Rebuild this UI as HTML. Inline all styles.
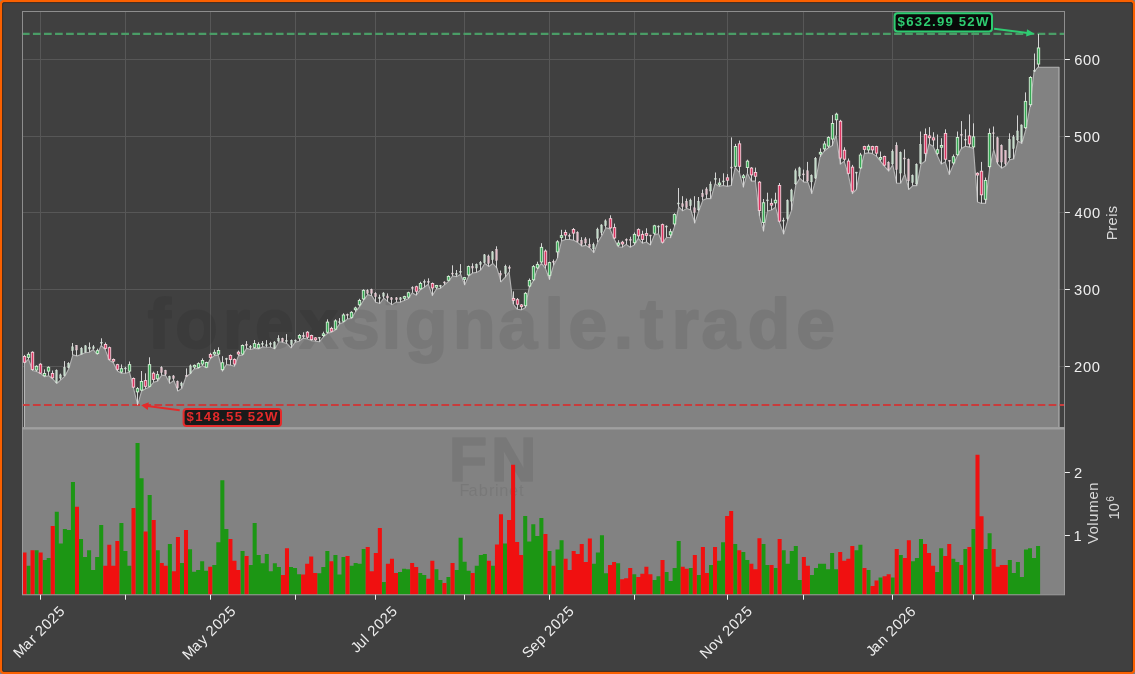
<!DOCTYPE html><html><head><meta charset="utf-8"><style>html,body{margin:0;padding:0;background:#808080;overflow:hidden}svg{display:block;will-change:transform}text{font-family:"Liberation Sans",sans-serif}</style></head><body>
<svg width="1135" height="674" viewBox="0 0 1135 674">
<rect x="1.1" y="1.1" width="1132.8" height="671.8" rx="2.6" fill="#404040" stroke="#fa6000" stroke-width="2.2"/>
<rect x="2.6" y="2.6" width="1129.8" height="668.8" rx="1.4" fill="none" stroke="#000" stroke-opacity="0.45" stroke-width="0.8"/>
<path d="M40.5 11.5V427.5M125.5 11.5V427.5M210.5 11.5V427.5M295.5 11.5V427.5M375.5 11.5V427.5M464.5 11.5V427.5M549.5 11.5V427.5M634.5 11.5V427.5M727.5 11.5V427.5M803.5 11.5V427.5M892.5 11.5V427.5M973.5 11.5V427.5M22.5 59.5H1064.5M22.5 136.5H1064.5M22.5 212.5H1064.5M22.5 289.5H1064.5M22.5 366.5H1064.5" stroke="#575757" stroke-width="1" fill="none"/>
<polygon points="24.5,427.5 24.5,363.2 28.5,359.1 32.6,370.5 36.6,371.5 40.6,373.6 44.7,376.7 48.7,375.7 52.7,378.8 56.8,383.5 60.8,379.8 64.9,376.2 68.9,368.4 72.9,354.9 77.0,356.0 81.0,354.4 85.1,352.8 89.1,352.3 93.1,349.7 97.2,354.4 101.2,345.4 105.2,349.6 109.3,360.3 113.3,362.7 117.4,371.0 121.4,373.3 125.4,373.3 129.5,372.2 133.5,388.2 137.6,405.2 141.6,391.1 145.6,388.8 149.7,387.0 153.7,382.2 157.7,381.1 161.8,375.1 165.8,375.7 169.9,383.4 173.9,380.5 177.9,391.1 182.0,388.2 186.0,376.7 190.0,374.0 194.1,369.0 198.1,368.4 202.2,365.6 206.2,367.8 210.2,358.9 214.3,355.6 218.3,355.1 222.4,371.2 226.4,364.5 230.4,365.1 234.5,366.2 238.5,355.6 242.5,355.1 246.6,348.4 250.6,349.5 254.7,348.4 258.7,348.9 262.7,346.7 266.8,347.2 270.8,347.2 274.9,349.0 278.9,341.8 282.9,342.4 287.0,343.6 291.0,347.8 295.0,342.4 299.1,341.2 303.1,338.3 307.2,338.9 311.2,340.6 315.2,341.2 319.3,341.8 323.3,337.1 327.3,333.5 331.4,332.3 335.4,330.0 339.5,324.0 343.5,322.2 347.5,319.0 351.6,318.4 355.6,311.8 359.7,306.5 363.7,300.0 367.7,294.6 371.8,295.8 375.8,302.3 379.8,303.5 383.9,298.2 387.9,301.7 392.0,304.7 396.0,302.3 400.0,302.3 404.1,300.6 408.1,298.8 412.2,292.8 416.2,295.2 420.2,289.9 424.3,287.2 428.3,284.3 432.3,295.6 436.4,289.0 440.4,288.4 444.5,284.9 448.5,281.3 452.5,276.0 456.6,276.6 460.6,274.2 464.7,284.9 468.7,276.0 472.7,273.0 476.8,272.4 480.8,270.0 484.8,263.5 488.9,266.5 492.9,263.5 497.0,268.2 501.0,281.9 505.0,277.3 509.1,272.1 513.1,304.0 517.1,309.2 521.2,309.9 525.2,307.7 529.3,287.4 533.3,281.0 537.3,269.1 541.4,263.2 545.4,268.4 549.5,279.5 553.5,265.4 557.5,258.0 561.6,240.9 565.6,239.5 569.6,239.5 573.7,240.2 577.7,242.4 581.8,246.1 585.8,245.4 589.8,247.9 593.9,252.7 597.9,242.0 602.0,235.5 606.0,227.7 610.0,228.9 614.1,239.0 618.1,246.7 622.1,247.3 626.2,244.4 630.2,247.3 634.3,245.0 638.3,238.4 642.3,243.2 646.4,242.0 650.4,245.0 654.4,234.9 658.5,233.7 662.5,243.2 666.6,237.2 670.6,237.8 674.6,226.4 678.7,206.8 682.7,210.9 686.8,208.4 690.8,210.0 694.8,223.1 698.9,210.9 702.9,200.2 706.9,198.6 711.0,198.6 715.0,183.9 719.1,186.4 723.1,185.5 727.1,186.4 731.2,185.5 735.2,167.6 739.3,172.5 743.3,187.2 747.3,173.3 751.4,181.1 755.4,181.1 759.4,215.8 763.5,231.2 767.5,211.0 771.6,210.0 775.6,207.1 779.6,222.6 783.7,234.1 787.7,220.6 791.7,210.0 795.8,185.0 799.8,178.2 803.9,182.1 807.9,182.1 811.9,193.6 816.0,179.2 820.0,157.0 824.1,151.3 828.1,148.0 832.1,145.8 836.2,135.3 840.2,164.2 844.2,161.3 848.3,174.7 852.3,193.7 856.4,189.5 860.4,169.1 864.4,153.6 868.5,152.9 872.5,153.6 876.6,156.4 880.6,161.3 884.6,166.3 888.7,171.2 892.7,164.9 896.7,183.2 900.8,183.2 904.8,174.0 908.9,189.5 912.9,185.6 916.9,185.6 921.0,164.1 925.0,161.2 929.0,144.1 933.1,146.3 937.1,155.2 941.2,164.1 945.2,161.9 949.2,174.5 953.3,164.9 957.3,156.0 961.4,148.6 965.4,146.3 969.4,147.1 973.5,148.6 977.5,201.9 981.5,203.4 985.6,203.4 989.6,168.6 993.7,149.5 997.7,164.0 1001.7,168.2 1005.8,165.7 1009.8,159.7 1013.9,158.9 1017.9,141.0 1021.9,143.5 1026.0,129.0 1030.0,106.9 1034.0,72.0 1038.1,67.2 1059.0,67.2 1059.0,427.5" fill="#828282"/>
<polyline points="24.5,427.5 24.5,363.2 28.5,359.1 32.6,370.5 36.6,371.5 40.6,373.6 44.7,376.7 48.7,375.7 52.7,378.8 56.8,383.5 60.8,379.8 64.9,376.2 68.9,368.4 72.9,354.9 77.0,356.0 81.0,354.4 85.1,352.8 89.1,352.3 93.1,349.7 97.2,354.4 101.2,345.4 105.2,349.6 109.3,360.3 113.3,362.7 117.4,371.0 121.4,373.3 125.4,373.3 129.5,372.2 133.5,388.2 137.6,405.2 141.6,391.1 145.6,388.8 149.7,387.0 153.7,382.2 157.7,381.1 161.8,375.1 165.8,375.7 169.9,383.4 173.9,380.5 177.9,391.1 182.0,388.2 186.0,376.7 190.0,374.0 194.1,369.0 198.1,368.4 202.2,365.6 206.2,367.8 210.2,358.9 214.3,355.6 218.3,355.1 222.4,371.2 226.4,364.5 230.4,365.1 234.5,366.2 238.5,355.6 242.5,355.1 246.6,348.4 250.6,349.5 254.7,348.4 258.7,348.9 262.7,346.7 266.8,347.2 270.8,347.2 274.9,349.0 278.9,341.8 282.9,342.4 287.0,343.6 291.0,347.8 295.0,342.4 299.1,341.2 303.1,338.3 307.2,338.9 311.2,340.6 315.2,341.2 319.3,341.8 323.3,337.1 327.3,333.5 331.4,332.3 335.4,330.0 339.5,324.0 343.5,322.2 347.5,319.0 351.6,318.4 355.6,311.8 359.7,306.5 363.7,300.0 367.7,294.6 371.8,295.8 375.8,302.3 379.8,303.5 383.9,298.2 387.9,301.7 392.0,304.7 396.0,302.3 400.0,302.3 404.1,300.6 408.1,298.8 412.2,292.8 416.2,295.2 420.2,289.9 424.3,287.2 428.3,284.3 432.3,295.6 436.4,289.0 440.4,288.4 444.5,284.9 448.5,281.3 452.5,276.0 456.6,276.6 460.6,274.2 464.7,284.9 468.7,276.0 472.7,273.0 476.8,272.4 480.8,270.0 484.8,263.5 488.9,266.5 492.9,263.5 497.0,268.2 501.0,281.9 505.0,277.3 509.1,272.1 513.1,304.0 517.1,309.2 521.2,309.9 525.2,307.7 529.3,287.4 533.3,281.0 537.3,269.1 541.4,263.2 545.4,268.4 549.5,279.5 553.5,265.4 557.5,258.0 561.6,240.9 565.6,239.5 569.6,239.5 573.7,240.2 577.7,242.4 581.8,246.1 585.8,245.4 589.8,247.9 593.9,252.7 597.9,242.0 602.0,235.5 606.0,227.7 610.0,228.9 614.1,239.0 618.1,246.7 622.1,247.3 626.2,244.4 630.2,247.3 634.3,245.0 638.3,238.4 642.3,243.2 646.4,242.0 650.4,245.0 654.4,234.9 658.5,233.7 662.5,243.2 666.6,237.2 670.6,237.8 674.6,226.4 678.7,206.8 682.7,210.9 686.8,208.4 690.8,210.0 694.8,223.1 698.9,210.9 702.9,200.2 706.9,198.6 711.0,198.6 715.0,183.9 719.1,186.4 723.1,185.5 727.1,186.4 731.2,185.5 735.2,167.6 739.3,172.5 743.3,187.2 747.3,173.3 751.4,181.1 755.4,181.1 759.4,215.8 763.5,231.2 767.5,211.0 771.6,210.0 775.6,207.1 779.6,222.6 783.7,234.1 787.7,220.6 791.7,210.0 795.8,185.0 799.8,178.2 803.9,182.1 807.9,182.1 811.9,193.6 816.0,179.2 820.0,157.0 824.1,151.3 828.1,148.0 832.1,145.8 836.2,135.3 840.2,164.2 844.2,161.3 848.3,174.7 852.3,193.7 856.4,189.5 860.4,169.1 864.4,153.6 868.5,152.9 872.5,153.6 876.6,156.4 880.6,161.3 884.6,166.3 888.7,171.2 892.7,164.9 896.7,183.2 900.8,183.2 904.8,174.0 908.9,189.5 912.9,185.6 916.9,185.6 921.0,164.1 925.0,161.2 929.0,144.1 933.1,146.3 937.1,155.2 941.2,164.1 945.2,161.9 949.2,174.5 953.3,164.9 957.3,156.0 961.4,148.6 965.4,146.3 969.4,147.1 973.5,148.6 977.5,201.9 981.5,203.4 985.6,203.4 989.6,168.6 993.7,149.5 997.7,164.0 1001.7,168.2 1005.8,165.7 1009.8,159.7 1013.9,158.9 1017.9,141.0 1021.9,143.5 1026.0,129.0 1030.0,106.9 1034.0,72.0 1038.1,67.2 1059.0,67.2 1059.0,427.5" fill="none" stroke="#b4b4b4" stroke-width="1.1" stroke-linejoin="round"/>
<g opacity="0.07"><text transform="translate(144.53 347.80)" x="3.18 30.63 78.56 110.48 154.91 196.55 237.14 260.38 308.39 353.98 400.00 423.94 469.23 495.52 527.17 556.90 603.30 651.71" y="0" font-size="69.50" font-weight="bold" fill="#000" stroke="#000" stroke-width="2" stroke-linejoin="round">forexsignale.trade</text></g>
<line x1="21.9" y1="33.9" x2="1064.5" y2="33.9" stroke="#4a9c66" stroke-width="2.2" stroke-dasharray="7.71 3.33"/>
<line x1="21.9" y1="405.0" x2="1064.5" y2="405.0" stroke="#c83c3c" stroke-width="2.2" stroke-dasharray="7.71 3.33"/>
<path d="M24.5 354.9V363.2M28.5 352.3V359.1M32.5 351.3V370.5M36.5 365.3V371.5M40.5 363.2V373.6M44.5 369.4V376.7M48.5 366.3V375.7M52.5 370.5V378.8M56.5 369.4V383.5M60.5 373.6V379.8M64.5 361.1V376.2M68.5 362.2V368.4M72.5 343.0V354.9M76.5 345.1V356.0M81.5 347.1V354.4M85.5 345.1V352.8M89.5 342.5V352.3M93.5 345.1V349.7M97.5 348.7V354.4M101.5 338.3V345.4M105.5 342.5V349.6M109.5 346.6V360.3M113.5 358.5V362.7M117.5 363.8V371.0M121.5 364.4V373.3M125.5 366.8V373.3M129.5 361.5V372.2M133.5 377.5V388.2M137.5 387.0V405.2M141.5 371.0V391.1M145.5 373.3V388.8M149.5 357.3V387.0M153.5 371.6V382.2M157.5 371.0V381.1M161.5 366.2V375.1M165.5 369.8V375.7M169.5 375.7V383.4M173.5 375.1V380.5M177.5 380.5V391.1M181.5 381.7V388.2M186.5 368.4V376.7M190.5 364.5V374.0M194.5 364.5V369.0M198.5 362.3V368.4M202.5 358.4V365.6M206.5 361.7V367.8M210.5 352.8V358.9M214.5 349.5V355.6M218.5 347.3V355.1M222.5 356.2V371.2M226.5 357.8V364.5M230.5 354.5V365.1M234.5 358.4V366.2M238.5 350.6V355.6M242.5 344.5V355.1M246.5 341.1V348.4M250.5 345.0V349.5M254.5 340.0V348.4M258.5 342.3V348.9M262.5 341.1V346.7M266.5 340.1V347.2M270.5 341.8V347.2M274.5 341.2V349.0M278.5 335.3V341.8M282.5 337.7V342.4M286.5 334.1V343.6M291.5 339.5V347.8M295.5 339.5V342.4M299.5 334.1V341.2M303.5 332.3V338.3M307.5 331.1V338.9M311.5 334.7V340.6M315.5 337.1V341.2M319.5 337.1V341.8M323.5 331.7V337.1M327.5 319.3V333.5M331.5 326.8V332.3M335.5 319.3V330.0M339.5 318.1V324.0M343.5 313.3V322.2M347.5 313.6V319.0M351.5 311.2V318.4M355.5 306.7V311.8M359.5 298.8V306.5M363.5 289.3V300.0M367.5 289.3V294.6M371.5 288.7V295.8M375.5 292.2V302.3M379.5 294.6V303.5M383.5 292.2V298.2M387.5 293.4V301.7M391.5 297.0V304.7M396.5 297.0V302.3M400.5 297.0V302.3M404.5 295.8V300.6M408.5 291.7V298.8M412.5 286.3V292.8M416.5 285.7V295.2M420.5 281.8V289.9M424.5 279.5V287.2M428.5 278.3V284.3M432.5 282.5V295.6M436.5 284.9V289.0M440.5 284.9V288.4M444.5 281.3V284.9M448.5 275.4V281.3M452.5 265.3V276.0M456.5 270.0V276.6M460.5 264.1V274.2M464.5 277.2V284.9M468.5 265.6V276.0M472.5 263.3V273.0M476.5 263.5V272.4M480.5 261.1V270.0M484.5 254.0V263.5M488.5 254.6V266.5M492.5 251.0V263.5M496.5 246.3V268.2M500.5 270.6V281.9M505.5 264.7V277.3M509.5 265.4V272.1M513.5 291.4V304.0M517.5 298.0V309.2M521.5 304.0V309.9M525.5 292.1V307.7M529.5 278.5V287.4M533.5 265.1V281.0M537.5 261.7V269.1M541.5 243.2V263.2M545.5 249.4V268.4M549.5 261.7V279.5M553.5 259.5V265.4M557.5 240.2V258.0M561.5 229.8V240.9M565.5 229.8V239.5M569.5 233.5V239.5M573.5 228.0V240.2M577.5 231.3V242.4M581.5 237.2V246.1M585.5 237.2V245.4M589.5 238.4V247.9M593.5 242.6V252.7M597.5 227.7V242.0M601.5 224.2V235.5M605.5 219.4V227.7M610.5 215.3V228.9M614.5 223.6V239.0M618.5 240.2V246.7M622.5 240.8V247.3M626.5 238.4V244.4M630.5 236.7V247.3M634.5 232.5V245.0M638.5 228.3V238.4M642.5 230.7V243.2M646.5 228.3V242.0M650.5 234.9V245.0M654.5 224.8V234.9M658.5 225.4V233.7M662.5 223.6V243.2M666.5 225.4V237.2M670.5 228.8V237.8M674.5 213.3V226.4M678.5 188.0V206.8M682.5 196.2V210.9M686.5 198.6V208.4M690.5 198.6V210.0M694.5 196.2V223.1M698.5 197.0V210.9M702.5 189.6V200.2M706.5 187.2V198.6M710.5 181.5V198.6M715.5 172.5V183.9M719.5 178.2V186.4M723.5 173.3V185.5M727.5 174.1V186.4M731.5 137.4V185.5M735.5 143.9V167.6M739.5 140.6V172.5M743.5 174.1V187.2M747.5 159.7V173.3M751.5 167.1V181.1M755.5 167.6V181.1M759.5 181.1V215.8M763.5 199.0V231.2M767.5 192.7V211.0M771.5 198.5V210.0M775.5 192.7V207.1M779.5 183.0V222.6M783.5 217.7V234.1M787.5 199.4V220.6M791.5 188.8V210.0M795.5 168.6V185.0M799.5 166.7V178.2M803.5 169.6V182.1M807.5 161.9V182.1M811.5 174.4V193.6M815.5 157.0V179.2M820.5 148.4V157.0M824.5 141.2V151.3M828.5 136.3V148.0M832.5 115.1V145.8M836.5 112.7V135.3M840.5 119.8V164.2M844.5 147.3V161.3M848.5 158.5V174.7M852.5 164.9V193.7M856.5 171.9V189.5M860.5 152.9V169.1M864.5 145.8V153.6M868.5 144.4V152.9M872.5 145.8V153.6M876.5 145.8V156.4M880.5 151.5V161.3M884.5 155.7V166.3M888.5 161.3V171.2M892.5 149.4V164.9M896.5 142.3V183.2M900.5 151.5V183.2M904.5 149.4V174.0M908.5 158.5V189.5M912.5 174.5V185.6M916.5 163.4V185.6M920.5 131.5V164.1M925.5 128.5V161.2M929.5 127.1V144.1M933.5 132.2V146.3M937.5 134.5V155.2M941.5 138.2V164.1M945.5 129.3V161.9M949.5 160.1V174.5M953.5 154.5V164.9M957.5 131.5V156.0M961.5 121.1V148.6M965.5 129.3V146.3M969.5 114.4V147.1M973.5 123.3V148.6M977.5 172.3V201.9M981.5 161.9V203.4M985.5 177.5V203.4M989.5 128.5V168.6M993.5 126.5V149.5M997.5 136.7V164.0M1001.5 144.4V168.2M1005.5 150.3V165.7M1009.5 133.3V159.7M1013.5 135.0V158.9M1017.5 115.4V141.0M1021.5 124.4V143.5M1025.5 92.4V129.0M1030.5 76.2V106.9M1034.5 53.5V72.0M1038.5 34.0V67.2" stroke="#d4d4d4" stroke-width="1" fill="none"/>
<rect x="23.30" y="356.40" width="2.40" height="5.85" fill="#dc3461" stroke="#f7d0da" stroke-width="0.9"/><rect x="27.30" y="354.33" width="2.40" height="3.04" fill="#34a853" stroke="#d4f0d6" stroke-width="0.9"/><rect x="31.30" y="352.25" width="2.40" height="17.27" fill="#dc3461" stroke="#f7d0da" stroke-width="0.9"/><rect x="35.30" y="366.26" width="2.40" height="3.77" fill="#34a853" stroke="#d4f0d6" stroke-width="0.9"/><rect x="39.30" y="364.19" width="2.40" height="8.96" fill="#dc3461" stroke="#f7d0da" stroke-width="0.9"/><rect x="43.30" y="373.53" width="2.40" height="2.21" fill="#34a853" stroke="#d4f0d6" stroke-width="0.9"/><rect x="47.30" y="367.30" width="2.40" height="3.77" fill="#34a853" stroke="#d4f0d6" stroke-width="0.9"/><rect x="51.30" y="373.53" width="2.40" height="4.29" fill="#dc3461" stroke="#f7d0da" stroke-width="0.9"/><rect x="55.55" y="370.22" width="1.90" height="12.48" fill="#c2e0c8" stroke="#e2ece4" stroke-width="0.5" opacity="0.8"/><rect x="59.55" y="374.89" width="1.90" height="3.13" fill="#c2e0c8" stroke="#e2ece4" stroke-width="0.5" opacity="0.8"/><rect x="63.55" y="367.62" width="1.90" height="7.80" fill="#c2e0c8" stroke="#e2ece4" stroke-width="0.5" opacity="0.8"/><rect x="67.55" y="363.47" width="1.90" height="4.17" fill="#c2e0c8" stroke="#e2ece4" stroke-width="0.5" opacity="0.8"/><rect x="71.55" y="346.86" width="1.90" height="3.65" fill="#c2e0c8" stroke="#e2ece4" stroke-width="0.5" opacity="0.8"/><rect x="75.55" y="345.30" width="1.90" height="4.69" fill="#eab9c7" stroke="#eee0e4" stroke-width="0.5" opacity="0.8"/><rect x="80.55" y="348.42" width="1.90" height="5.73" fill="#c2e0c8" stroke="#e2ece4" stroke-width="0.5" opacity="0.8"/><rect x="84.55" y="345.82" width="1.90" height="6.25" fill="#c2e0c8" stroke="#e2ece4" stroke-width="0.5" opacity="0.8"/><rect x="88.55" y="347.38" width="1.90" height="1.58" fill="#c2e0c8" stroke="#e2ece4" stroke-width="0.5" opacity="0.8"/><rect x="92.55" y="346.86" width="1.90" height="1.58" fill="#c2e0c8" stroke="#e2ece4" stroke-width="0.5" opacity="0.8"/><rect x="96.30" y="350.69" width="2.40" height="2.73" fill="#34a853" stroke="#d4f0d6" stroke-width="0.9"/><rect x="100.55" y="342.25" width="1.90" height="0.90" fill="#c2e0c8" stroke="#e2ece4" stroke-width="0.5" opacity="0.8"/><rect x="104.30" y="344.46" width="2.40" height="3.85" fill="#dc3461" stroke="#f7d0da" stroke-width="0.9"/><rect x="108.30" y="347.67" width="2.40" height="11.57" fill="#dc3461" stroke="#f7d0da" stroke-width="0.9"/><rect x="112.30" y="359.43" width="2.40" height="1.70" fill="#dc3461" stroke="#f7d0da" stroke-width="0.9"/><rect x="116.30" y="364.65" width="2.40" height="4.68" fill="#dc3461" stroke="#f7d0da" stroke-width="0.9"/><rect x="120.30" y="368.68" width="2.40" height="3.37" fill="#34a853" stroke="#d4f0d6" stroke-width="0.9"/><rect x="124.55" y="368.02" width="1.90" height="0.90" fill="#c2e0c8" stroke="#e2ece4" stroke-width="0.5" opacity="0.8"/><rect x="128.30" y="364.65" width="2.40" height="6.46" fill="#34a853" stroke="#d4f0d6" stroke-width="0.9"/><rect x="132.30" y="378.54" width="2.40" height="8.60" fill="#dc3461" stroke="#f7d0da" stroke-width="0.9"/><rect x="136.30" y="388.63" width="2.40" height="3.26" fill="#34a853" stroke="#d4f0d6" stroke-width="0.9"/><rect x="140.30" y="381.51" width="2.40" height="8.60" fill="#34a853" stroke="#d4f0d6" stroke-width="0.9"/><rect x="144.30" y="380.56" width="2.40" height="5.75" fill="#dc3461" stroke="#f7d0da" stroke-width="0.9"/><rect x="148.30" y="364.65" width="2.40" height="21.66" fill="#34a853" stroke="#d4f0d6" stroke-width="0.9"/><rect x="152.30" y="373.20" width="2.40" height="6.22" fill="#dc3461" stroke="#f7d0da" stroke-width="0.9"/><rect x="156.30" y="374.62" width="2.40" height="4.21" fill="#34a853" stroke="#d4f0d6" stroke-width="0.9"/><rect x="160.55" y="367.65" width="1.90" height="4.84" fill="#eab9c7" stroke="#eee0e4" stroke-width="0.5" opacity="0.8"/><rect x="164.55" y="370.38" width="1.90" height="3.89" fill="#eab9c7" stroke="#eee0e4" stroke-width="0.5" opacity="0.8"/><rect x="168.55" y="376.56" width="1.90" height="3.06" fill="#c2e0c8" stroke="#e2ece4" stroke-width="0.5" opacity="0.8"/><rect x="172.55" y="375.96" width="1.90" height="2.47" fill="#eab9c7" stroke="#eee0e4" stroke-width="0.5" opacity="0.8"/><rect x="176.55" y="381.31" width="1.90" height="6.62" fill="#eab9c7" stroke="#eee0e4" stroke-width="0.5" opacity="0.8"/><rect x="180.55" y="383.09" width="1.90" height="2.47" fill="#c2e0c8" stroke="#e2ece4" stroke-width="0.5" opacity="0.8"/><rect x="185.55" y="375.46" width="1.90" height="0.90" fill="#eab9c7" stroke="#eee0e4" stroke-width="0.5" opacity="0.8"/><rect x="189.55" y="365.87" width="1.90" height="7.29" fill="#c2e0c8" stroke="#e2ece4" stroke-width="0.5" opacity="0.8"/><rect x="193.30" y="365.33" width="2.40" height="1.70" fill="#34a853" stroke="#d4f0d6" stroke-width="0.9"/><rect x="197.30" y="363.63" width="2.40" height="3.77" fill="#34a853" stroke="#d4f0d6" stroke-width="0.9"/><rect x="201.30" y="360.51" width="2.40" height="3.55" fill="#34a853" stroke="#d4f0d6" stroke-width="0.9"/><rect x="205.30" y="362.51" width="2.40" height="4.66" fill="#34a853" stroke="#d4f0d6" stroke-width="0.9"/><rect x="209.30" y="354.39" width="2.40" height="2.99" fill="#dc3461" stroke="#f7d0da" stroke-width="0.9"/><rect x="213.30" y="352.31" width="2.40" height="1.70" fill="#34a853" stroke="#d4f0d6" stroke-width="0.9"/><rect x="217.30" y="350.50" width="2.40" height="3.55" fill="#34a853" stroke="#d4f0d6" stroke-width="0.9"/><rect x="221.30" y="362.74" width="2.40" height="6.89" fill="#34a853" stroke="#d4f0d6" stroke-width="0.9"/><rect x="225.55" y="358.50" width="1.90" height="0.90" fill="#c2e0c8" stroke="#e2ece4" stroke-width="0.5" opacity="0.8"/><rect x="229.30" y="355.51" width="2.40" height="3.88" fill="#dc3461" stroke="#f7d0da" stroke-width="0.9"/><rect x="233.30" y="359.40" width="2.40" height="4.66" fill="#dc3461" stroke="#f7d0da" stroke-width="0.9"/><rect x="237.30" y="352.17" width="2.40" height="1.88" fill="#dc3461" stroke="#f7d0da" stroke-width="0.9"/><rect x="241.30" y="345.49" width="2.40" height="8.56" fill="#34a853" stroke="#d4f0d6" stroke-width="0.9"/><rect x="245.55" y="344.18" width="1.90" height="1.17" fill="#eab9c7" stroke="#eee0e4" stroke-width="0.5" opacity="0.8"/><rect x="249.55" y="346.54" width="1.90" height="0.90" fill="#c2e0c8" stroke="#e2ece4" stroke-width="0.5" opacity="0.8"/><rect x="253.30" y="343.60" width="2.40" height="3.77" fill="#34a853" stroke="#d4f0d6" stroke-width="0.9"/><rect x="257.30" y="344.38" width="2.40" height="3.55" fill="#34a853" stroke="#d4f0d6" stroke-width="0.9"/><rect x="261.55" y="343.48" width="1.90" height="0.90" fill="#c2e0c8" stroke="#e2ece4" stroke-width="0.5" opacity="0.8"/><rect x="265.55" y="344.82" width="1.90" height="0.92" fill="#c2e0c8" stroke="#e2ece4" stroke-width="0.5" opacity="0.8"/><rect x="269.55" y="343.27" width="1.90" height="1.28" fill="#c2e0c8" stroke="#e2ece4" stroke-width="0.5" opacity="0.8"/><rect x="273.55" y="342.09" width="1.90" height="6.03" fill="#c2e0c8" stroke="#e2ece4" stroke-width="0.5" opacity="0.8"/><rect x="277.55" y="338.52" width="1.90" height="2.47" fill="#c2e0c8" stroke="#e2ece4" stroke-width="0.5" opacity="0.8"/><rect x="281.55" y="338.52" width="1.90" height="3.06" fill="#eab9c7" stroke="#eee0e4" stroke-width="0.5" opacity="0.8"/><rect x="285.55" y="340.61" width="1.90" height="0.90" fill="#c2e0c8" stroke="#e2ece4" stroke-width="0.5" opacity="0.8"/><rect x="290.55" y="340.30" width="1.90" height="4.25" fill="#c2e0c8" stroke="#e2ece4" stroke-width="0.5" opacity="0.8"/><rect x="294.55" y="340.20" width="1.90" height="0.90" fill="#c2e0c8" stroke="#e2ece4" stroke-width="0.5" opacity="0.8"/><rect x="298.30" y="335.52" width="2.40" height="2.66" fill="#34a853" stroke="#d4f0d6" stroke-width="0.9"/><rect x="302.55" y="335.32" width="1.90" height="1.52" fill="#eab9c7" stroke="#eee0e4" stroke-width="0.5" opacity="0.8"/><rect x="306.30" y="332.19" width="2.40" height="5.04" fill="#dc3461" stroke="#f7d0da" stroke-width="0.9"/><rect x="310.30" y="335.52" width="2.40" height="4.09" fill="#dc3461" stroke="#f7d0da" stroke-width="0.9"/><rect x="314.30" y="337.89" width="2.40" height="1.95" fill="#dc3461" stroke="#f7d0da" stroke-width="0.9"/><rect x="318.55" y="337.23" width="1.90" height="0.90" fill="#c2e0c8" stroke="#e2ece4" stroke-width="0.5" opacity="0.8"/><rect x="322.30" y="333.86" width="2.40" height="1.70" fill="#34a853" stroke="#d4f0d6" stroke-width="0.9"/><rect x="326.30" y="322.10" width="2.40" height="10.14" fill="#34a853" stroke="#d4f0d6" stroke-width="0.9"/><rect x="330.30" y="328.39" width="2.40" height="2.90" fill="#dc3461" stroke="#f7d0da" stroke-width="0.9"/><rect x="334.30" y="320.91" width="2.40" height="8.24" fill="#34a853" stroke="#d4f0d6" stroke-width="0.9"/><rect x="338.55" y="321.79" width="1.90" height="0.90" fill="#c2e0c8" stroke="#e2ece4" stroke-width="0.5" opacity="0.8"/><rect x="342.30" y="314.98" width="2.40" height="6.22" fill="#34a853" stroke="#d4f0d6" stroke-width="0.9"/><rect x="346.55" y="314.35" width="1.90" height="0.90" fill="#eab9c7" stroke="#eee0e4" stroke-width="0.5" opacity="0.8"/><rect x="350.30" y="312.29" width="2.40" height="5.04" fill="#34a853" stroke="#d4f0d6" stroke-width="0.9"/><rect x="354.30" y="308.02" width="2.40" height="1.70" fill="#34a853" stroke="#d4f0d6" stroke-width="0.9"/><rect x="358.30" y="300.41" width="2.40" height="4.44" fill="#34a853" stroke="#d4f0d6" stroke-width="0.9"/><rect x="362.30" y="290.32" width="2.40" height="8.60" fill="#34a853" stroke="#d4f0d6" stroke-width="0.9"/><rect x="366.55" y="290.71" width="1.90" height="2.47" fill="#eab9c7" stroke="#eee0e4" stroke-width="0.5" opacity="0.8"/><rect x="370.55" y="289.53" width="1.90" height="3.66" fill="#eab9c7" stroke="#eee0e4" stroke-width="0.5" opacity="0.8"/><rect x="374.55" y="293.68" width="1.90" height="3.06" fill="#eab9c7" stroke="#eee0e4" stroke-width="0.5" opacity="0.8"/><rect x="378.55" y="297.73" width="1.90" height="0.90" fill="#c2e0c8" stroke="#e2ece4" stroke-width="0.5" opacity="0.8"/><rect x="382.55" y="293.09" width="1.90" height="3.06" fill="#c2e0c8" stroke="#e2ece4" stroke-width="0.5" opacity="0.8"/><rect x="386.55" y="296.06" width="1.90" height="1.87" fill="#eab9c7" stroke="#eee0e4" stroke-width="0.5" opacity="0.8"/><rect x="390.55" y="297.84" width="1.90" height="1.87" fill="#eab9c7" stroke="#eee0e4" stroke-width="0.5" opacity="0.8"/><rect x="395.55" y="297.84" width="1.90" height="1.87" fill="#eab9c7" stroke="#eee0e4" stroke-width="0.5" opacity="0.8"/><rect x="399.55" y="297.84" width="1.90" height="1.87" fill="#c2e0c8" stroke="#e2ece4" stroke-width="0.5" opacity="0.8"/><rect x="403.30" y="296.62" width="2.40" height="1.70" fill="#34a853" stroke="#d4f0d6" stroke-width="0.9"/><rect x="407.30" y="292.69" width="2.40" height="4.44" fill="#34a853" stroke="#d4f0d6" stroke-width="0.9"/><rect x="411.55" y="287.64" width="1.90" height="0.90" fill="#eab9c7" stroke="#eee0e4" stroke-width="0.5" opacity="0.8"/><rect x="415.30" y="286.76" width="2.40" height="4.44" fill="#dc3461" stroke="#f7d0da" stroke-width="0.9"/><rect x="419.30" y="283.43" width="2.40" height="5.39" fill="#34a853" stroke="#d4f0d6" stroke-width="0.9"/><rect x="423.55" y="281.45" width="1.90" height="0.90" fill="#c2e0c8" stroke="#e2ece4" stroke-width="0.5" opacity="0.8"/><rect x="427.55" y="281.45" width="1.90" height="0.90" fill="#eab9c7" stroke="#eee0e4" stroke-width="0.5" opacity="0.8"/><rect x="431.30" y="283.54" width="2.40" height="4.44" fill="#dc3461" stroke="#f7d0da" stroke-width="0.9"/><rect x="435.30" y="285.50" width="2.40" height="1.70" fill="#34a853" stroke="#d4f0d6" stroke-width="0.9"/><rect x="439.55" y="285.61" width="1.90" height="0.90" fill="#c2e0c8" stroke="#e2ece4" stroke-width="0.5" opacity="0.8"/><rect x="443.55" y="282.04" width="1.90" height="0.90" fill="#eab9c7" stroke="#eee0e4" stroke-width="0.5" opacity="0.8"/><rect x="447.30" y="276.41" width="2.40" height="3.85" fill="#34a853" stroke="#d4f0d6" stroke-width="0.9"/><rect x="451.55" y="273.14" width="1.90" height="0.90" fill="#eab9c7" stroke="#eee0e4" stroke-width="0.5" opacity="0.8"/><rect x="455.55" y="273.73" width="1.90" height="0.90" fill="#c2e0c8" stroke="#e2ece4" stroke-width="0.5" opacity="0.8"/><rect x="459.55" y="271.36" width="1.90" height="0.90" fill="#c2e0c8" stroke="#e2ece4" stroke-width="0.5" opacity="0.8"/><rect x="463.30" y="277.61" width="2.40" height="1.70" fill="#34a853" stroke="#d4f0d6" stroke-width="0.9"/><rect x="467.30" y="266.56" width="2.40" height="8.36" fill="#34a853" stroke="#d4f0d6" stroke-width="0.9"/><rect x="471.55" y="266.72" width="1.90" height="1.28" fill="#eab9c7" stroke="#eee0e4" stroke-width="0.5" opacity="0.8"/><rect x="475.55" y="264.34" width="1.90" height="3.66" fill="#c2e0c8" stroke="#e2ece4" stroke-width="0.5" opacity="0.8"/><rect x="479.55" y="262.56" width="1.90" height="1.87" fill="#c2e0c8" stroke="#e2ece4" stroke-width="0.5" opacity="0.8"/><rect x="483.55" y="254.84" width="1.90" height="7.81" fill="#c2e0c8" stroke="#e2ece4" stroke-width="0.5" opacity="0.8"/><rect x="487.55" y="256.03" width="1.90" height="7.22" fill="#eab9c7" stroke="#eee0e4" stroke-width="0.5" opacity="0.8"/><rect x="491.55" y="251.87" width="1.90" height="7.81" fill="#c2e0c8" stroke="#e2ece4" stroke-width="0.5" opacity="0.8"/><rect x="495.55" y="249.50" width="1.90" height="10.78" fill="#eab9c7" stroke="#eee0e4" stroke-width="0.5" opacity="0.8"/><rect x="499.55" y="273.25" width="1.90" height="1.87" fill="#eab9c7" stroke="#eee0e4" stroke-width="0.5" opacity="0.8"/><rect x="504.55" y="266.41" width="1.90" height="6.91" fill="#c2e0c8" stroke="#e2ece4" stroke-width="0.5" opacity="0.8"/><rect x="508.55" y="267.15" width="1.90" height="1.28" fill="#eab9c7" stroke="#eee0e4" stroke-width="0.5" opacity="0.8"/><rect x="512.30" y="298.49" width="2.40" height="1.77" fill="#dc3461" stroke="#f7d0da" stroke-width="0.9"/><rect x="516.30" y="299.67" width="2.40" height="4.59" fill="#dc3461" stroke="#f7d0da" stroke-width="0.9"/><rect x="520.30" y="304.97" width="2.40" height="1.70" fill="#dc3461" stroke="#f7d0da" stroke-width="0.9"/><rect x="524.30" y="293.30" width="2.40" height="12.45" fill="#34a853" stroke="#d4f0d6" stroke-width="0.9"/><rect x="528.30" y="280.40" width="2.40" height="5.62" fill="#34a853" stroke="#d4f0d6" stroke-width="0.9"/><rect x="532.30" y="266.61" width="2.40" height="13.19" fill="#34a853" stroke="#d4f0d6" stroke-width="0.9"/><rect x="536.30" y="264.38" width="2.40" height="3.55" fill="#34a853" stroke="#d4f0d6" stroke-width="0.9"/><rect x="540.30" y="247.33" width="2.40" height="14.67" fill="#34a853" stroke="#d4f0d6" stroke-width="0.9"/><rect x="544.30" y="251.04" width="2.40" height="13.93" fill="#dc3461" stroke="#f7d0da" stroke-width="0.9"/><rect x="548.30" y="262.60" width="2.40" height="12.74" fill="#34a853" stroke="#d4f0d6" stroke-width="0.9"/><rect x="552.55" y="261.33" width="1.90" height="0.90" fill="#eab9c7" stroke="#eee0e4" stroke-width="0.5" opacity="0.8"/><rect x="556.30" y="241.84" width="2.40" height="10.07" fill="#34a853" stroke="#d4f0d6" stroke-width="0.9"/><rect x="560.30" y="235.65" width="2.40" height="1.70" fill="#34a853" stroke="#d4f0d6" stroke-width="0.9"/><rect x="564.30" y="232.50" width="2.40" height="2.51" fill="#dc3461" stroke="#f7d0da" stroke-width="0.9"/><rect x="568.55" y="235.31" width="1.90" height="0.90" fill="#eab9c7" stroke="#eee0e4" stroke-width="0.5" opacity="0.8"/><rect x="572.30" y="229.54" width="2.40" height="3.55" fill="#dc3461" stroke="#f7d0da" stroke-width="0.9"/><rect x="576.55" y="232.30" width="1.90" height="9.14" fill="#eab9c7" stroke="#eee0e4" stroke-width="0.5" opacity="0.8"/><rect x="580.55" y="240.46" width="1.90" height="3.95" fill="#eab9c7" stroke="#eee0e4" stroke-width="0.5" opacity="0.8"/><rect x="584.55" y="238.97" width="1.90" height="3.95" fill="#eab9c7" stroke="#eee0e4" stroke-width="0.5" opacity="0.8"/><rect x="588.55" y="244.62" width="1.90" height="2.47" fill="#eab9c7" stroke="#eee0e4" stroke-width="0.5" opacity="0.8"/><rect x="592.55" y="244.62" width="1.90" height="4.25" fill="#c2e0c8" stroke="#e2ece4" stroke-width="0.5" opacity="0.8"/><rect x="596.55" y="229.18" width="1.90" height="9.00" fill="#c2e0c8" stroke="#e2ece4" stroke-width="0.5" opacity="0.8"/><rect x="600.55" y="225.03" width="1.90" height="7.22" fill="#c2e0c8" stroke="#e2ece4" stroke-width="0.5" opacity="0.8"/><rect x="604.55" y="220.87" width="1.90" height="4.84" fill="#c2e0c8" stroke="#e2ece4" stroke-width="0.5" opacity="0.8"/><rect x="609.30" y="218.70" width="2.40" height="9.19" fill="#dc3461" stroke="#f7d0da" stroke-width="0.9"/><rect x="613.30" y="227.60" width="2.40" height="10.38" fill="#dc3461" stroke="#f7d0da" stroke-width="0.9"/><rect x="617.30" y="243.04" width="2.40" height="2.07" fill="#34a853" stroke="#d4f0d6" stroke-width="0.9"/><rect x="621.30" y="242.21" width="2.40" height="1.71" fill="#dc3461" stroke="#f7d0da" stroke-width="0.9"/><rect x="625.55" y="239.41" width="1.90" height="0.90" fill="#eab9c7" stroke="#eee0e4" stroke-width="0.5" opacity="0.8"/><rect x="629.55" y="239.41" width="1.90" height="0.90" fill="#eab9c7" stroke="#eee0e4" stroke-width="0.5" opacity="0.8"/><rect x="633.30" y="234.37" width="2.40" height="8.36" fill="#34a853" stroke="#d4f0d6" stroke-width="0.9"/><rect x="637.30" y="229.62" width="2.40" height="6.22" fill="#dc3461" stroke="#f7d0da" stroke-width="0.9"/><rect x="641.30" y="234.37" width="2.40" height="5.04" fill="#dc3461" stroke="#f7d0da" stroke-width="0.9"/><rect x="645.30" y="233.60" width="2.40" height="1.70" fill="#dc3461" stroke="#f7d0da" stroke-width="0.9"/><rect x="649.55" y="235.07" width="1.90" height="0.90" fill="#eab9c7" stroke="#eee0e4" stroke-width="0.5" opacity="0.8"/><rect x="653.30" y="225.82" width="2.40" height="7.41" fill="#34a853" stroke="#d4f0d6" stroke-width="0.9"/><rect x="657.55" y="226.11" width="1.90" height="0.90" fill="#c2e0c8" stroke="#e2ece4" stroke-width="0.5" opacity="0.8"/><rect x="661.30" y="224.63" width="2.40" height="17.50" fill="#dc3461" stroke="#f7d0da" stroke-width="0.9"/><rect x="665.55" y="226.11" width="1.90" height="0.90" fill="#c2e0c8" stroke="#e2ece4" stroke-width="0.5" opacity="0.8"/><rect x="669.30" y="231.72" width="2.40" height="3.18" fill="#34a853" stroke="#d4f0d6" stroke-width="0.9"/><rect x="673.30" y="214.57" width="2.40" height="9.39" fill="#34a853" stroke="#d4f0d6" stroke-width="0.9"/><rect x="677.55" y="203.06" width="1.90" height="0.90" fill="#c2e0c8" stroke="#e2ece4" stroke-width="0.5" opacity="0.8"/><rect x="681.55" y="203.76" width="1.90" height="2.77" fill="#eab9c7" stroke="#eee0e4" stroke-width="0.5" opacity="0.8"/><rect x="685.55" y="201.31" width="1.90" height="6.03" fill="#eab9c7" stroke="#eee0e4" stroke-width="0.5" opacity="0.8"/><rect x="689.55" y="200.16" width="1.90" height="5.54" fill="#c2e0c8" stroke="#e2ece4" stroke-width="0.5" opacity="0.8"/><rect x="693.55" y="207.84" width="1.90" height="4.40" fill="#eab9c7" stroke="#eee0e4" stroke-width="0.5" opacity="0.8"/><rect x="697.55" y="201.31" width="1.90" height="8.48" fill="#c2e0c8" stroke="#e2ece4" stroke-width="0.5" opacity="0.8"/><rect x="701.55" y="193.63" width="1.90" height="3.09" fill="#eab9c7" stroke="#eee0e4" stroke-width="0.5" opacity="0.8"/><rect x="705.55" y="189.05" width="1.90" height="5.22" fill="#eab9c7" stroke="#eee0e4" stroke-width="0.5" opacity="0.8"/><rect x="709.55" y="184.15" width="1.90" height="6.85" fill="#c2e0c8" stroke="#e2ece4" stroke-width="0.5" opacity="0.8"/><rect x="714.55" y="178.55" width="1.90" height="0.90" fill="#c2e0c8" stroke="#e2ece4" stroke-width="0.5" opacity="0.8"/><rect x="718.30" y="183.05" width="2.40" height="1.70" fill="#34a853" stroke="#d4f0d6" stroke-width="0.9"/><rect x="722.55" y="181.00" width="1.90" height="0.90" fill="#c2e0c8" stroke="#e2ece4" stroke-width="0.5" opacity="0.8"/><rect x="726.30" y="177.82" width="2.40" height="2.37" fill="#dc3461" stroke="#f7d0da" stroke-width="0.9"/><rect x="730.55" y="167.12" width="1.90" height="0.90" fill="#eab9c7" stroke="#eee0e4" stroke-width="0.5" opacity="0.8"/><rect x="734.30" y="146.46" width="2.40" height="19.84" fill="#34a853" stroke="#d4f0d6" stroke-width="0.9"/><rect x="738.30" y="143.84" width="2.40" height="22.46" fill="#dc3461" stroke="#f7d0da" stroke-width="0.9"/><rect x="742.30" y="175.86" width="2.40" height="1.88" fill="#34a853" stroke="#d4f0d6" stroke-width="0.9"/><rect x="746.30" y="161.16" width="2.40" height="6.29" fill="#34a853" stroke="#d4f0d6" stroke-width="0.9"/><rect x="750.30" y="168.08" width="2.40" height="6.81" fill="#dc3461" stroke="#f7d0da" stroke-width="0.9"/><rect x="754.30" y="172.51" width="2.40" height="3.73" fill="#dc3461" stroke="#f7d0da" stroke-width="0.9"/><rect x="758.30" y="182.15" width="2.40" height="28.39" fill="#dc3461" stroke="#f7d0da" stroke-width="0.9"/><rect x="762.30" y="202.77" width="2.40" height="19.72" fill="#34a853" stroke="#d4f0d6" stroke-width="0.9"/><rect x="766.55" y="199.94" width="1.90" height="0.90" fill="#c2e0c8" stroke="#e2ece4" stroke-width="0.5" opacity="0.8"/><rect x="770.30" y="203.40" width="2.40" height="1.70" fill="#dc3461" stroke="#f7d0da" stroke-width="0.9"/><rect x="774.30" y="200.27" width="2.40" height="2.57" fill="#34a853" stroke="#d4f0d6" stroke-width="0.9"/><rect x="778.30" y="185.43" width="2.40" height="35.72" fill="#dc3461" stroke="#f7d0da" stroke-width="0.9"/><rect x="782.55" y="220.18" width="1.90" height="0.90" fill="#c2e0c8" stroke="#e2ece4" stroke-width="0.5" opacity="0.8"/><rect x="786.55" y="200.64" width="1.90" height="17.81" fill="#c2e0c8" stroke="#e2ece4" stroke-width="0.5" opacity="0.8"/><rect x="790.55" y="190.04" width="1.90" height="11.06" fill="#c2e0c8" stroke="#e2ece4" stroke-width="0.5" opacity="0.8"/><rect x="794.55" y="170.77" width="1.90" height="12.99" fill="#c2e0c8" stroke="#e2ece4" stroke-width="0.5" opacity="0.8"/><rect x="798.55" y="167.88" width="1.90" height="8.17" fill="#c2e0c8" stroke="#e2ece4" stroke-width="0.5" opacity="0.8"/><rect x="802.55" y="173.93" width="1.90" height="0.90" fill="#eab9c7" stroke="#eee0e4" stroke-width="0.5" opacity="0.8"/><rect x="806.55" y="170.77" width="1.90" height="10.10" fill="#eab9c7" stroke="#eee0e4" stroke-width="0.5" opacity="0.8"/><rect x="810.55" y="175.59" width="1.90" height="6.25" fill="#c2e0c8" stroke="#e2ece4" stroke-width="0.5" opacity="0.8"/><rect x="814.55" y="158.25" width="1.90" height="19.74" fill="#c2e0c8" stroke="#e2ece4" stroke-width="0.5" opacity="0.8"/><rect x="819.30" y="152.33" width="2.40" height="1.70" fill="#34a853" stroke="#d4f0d6" stroke-width="0.9"/><rect x="823.30" y="143.99" width="2.40" height="4.88" fill="#34a853" stroke="#d4f0d6" stroke-width="0.9"/><rect x="827.30" y="137.56" width="2.40" height="8.54" fill="#34a853" stroke="#d4f0d6" stroke-width="0.9"/><rect x="831.30" y="123.48" width="2.40" height="15.58" fill="#34a853" stroke="#d4f0d6" stroke-width="0.9"/><rect x="835.30" y="114.18" width="2.40" height="5.58" fill="#34a853" stroke="#d4f0d6" stroke-width="0.9"/><rect x="839.30" y="121.22" width="2.40" height="36.85" fill="#dc3461" stroke="#f7d0da" stroke-width="0.9"/><rect x="843.30" y="150.24" width="2.40" height="8.96" fill="#dc3461" stroke="#f7d0da" stroke-width="0.9"/><rect x="847.30" y="161.08" width="2.40" height="12.20" fill="#dc3461" stroke="#f7d0da" stroke-width="0.9"/><rect x="851.30" y="167.14" width="2.40" height="24.03" fill="#dc3461" stroke="#f7d0da" stroke-width="0.9"/><rect x="855.55" y="172.16" width="1.90" height="0.90" fill="#c2e0c8" stroke="#e2ece4" stroke-width="0.5" opacity="0.8"/><rect x="859.30" y="155.03" width="2.40" height="12.90" fill="#34a853" stroke="#d4f0d6" stroke-width="0.9"/><rect x="863.30" y="146.58" width="2.40" height="2.76" fill="#dc3461" stroke="#f7d0da" stroke-width="0.9"/><rect x="867.30" y="146.30" width="2.40" height="3.61" fill="#34a853" stroke="#d4f0d6" stroke-width="0.9"/><rect x="871.30" y="146.58" width="2.40" height="3.33" fill="#dc3461" stroke="#f7d0da" stroke-width="0.9"/><rect x="875.30" y="146.58" width="2.40" height="6.56" fill="#dc3461" stroke="#f7d0da" stroke-width="0.9"/><rect x="879.30" y="157.46" width="2.40" height="1.70" fill="#34a853" stroke="#d4f0d6" stroke-width="0.9"/><rect x="883.30" y="156.44" width="2.40" height="8.68" fill="#dc3461" stroke="#f7d0da" stroke-width="0.9"/><rect x="887.55" y="162.29" width="1.90" height="7.25" fill="#eab9c7" stroke="#eee0e4" stroke-width="0.5" opacity="0.8"/><rect x="891.55" y="151.73" width="1.90" height="12.18" fill="#c2e0c8" stroke="#e2ece4" stroke-width="0.5" opacity="0.8"/><rect x="895.55" y="145.39" width="1.90" height="24.15" fill="#eab9c7" stroke="#eee0e4" stroke-width="0.5" opacity="0.8"/><rect x="899.55" y="152.43" width="1.90" height="20.63" fill="#c2e0c8" stroke="#e2ece4" stroke-width="0.5" opacity="0.8"/><rect x="903.55" y="158.07" width="1.90" height="0.90" fill="#eab9c7" stroke="#eee0e4" stroke-width="0.5" opacity="0.8"/><rect x="907.55" y="159.48" width="1.90" height="21.33" fill="#eab9c7" stroke="#eee0e4" stroke-width="0.5" opacity="0.8"/><rect x="911.55" y="175.49" width="1.90" height="6.91" fill="#c2e0c8" stroke="#e2ece4" stroke-width="0.5" opacity="0.8"/><rect x="915.55" y="164.37" width="1.90" height="19.52" fill="#c2e0c8" stroke="#e2ece4" stroke-width="0.5" opacity="0.8"/><rect x="919.55" y="144.35" width="1.90" height="18.78" fill="#c2e0c8" stroke="#e2ece4" stroke-width="0.5" opacity="0.8"/><rect x="924.30" y="134.47" width="2.40" height="18.82" fill="#dc3461" stroke="#f7d0da" stroke-width="0.9"/><rect x="928.30" y="135.95" width="2.40" height="1.77" fill="#dc3461" stroke="#f7d0da" stroke-width="0.9"/><rect x="932.30" y="137.88" width="2.40" height="2.07" fill="#dc3461" stroke="#f7d0da" stroke-width="0.9"/><rect x="936.30" y="149.74" width="2.40" height="3.55" fill="#34a853" stroke="#d4f0d6" stroke-width="0.9"/><rect x="940.30" y="145.48" width="2.40" height="1.70" fill="#34a853" stroke="#d4f0d6" stroke-width="0.9"/><rect x="944.30" y="133.43" width="2.40" height="25.79" fill="#dc3461" stroke="#f7d0da" stroke-width="0.9"/><rect x="948.55" y="160.26" width="1.90" height="0.90" fill="#eab9c7" stroke="#eee0e4" stroke-width="0.5" opacity="0.8"/><rect x="952.30" y="156.71" width="2.40" height="6.22" fill="#34a853" stroke="#d4f0d6" stroke-width="0.9"/><rect x="956.30" y="137.44" width="2.40" height="17.34" fill="#34a853" stroke="#d4f0d6" stroke-width="0.9"/><rect x="960.55" y="134.46" width="1.90" height="0.90" fill="#eab9c7" stroke="#eee0e4" stroke-width="0.5" opacity="0.8"/><rect x="964.55" y="139.21" width="1.90" height="0.90" fill="#c2e0c8" stroke="#e2ece4" stroke-width="0.5" opacity="0.8"/><rect x="968.30" y="135.95" width="2.40" height="8.00" fill="#dc3461" stroke="#f7d0da" stroke-width="0.9"/><rect x="972.30" y="136.84" width="2.40" height="10.07" fill="#34a853" stroke="#d4f0d6" stroke-width="0.9"/><rect x="976.30" y="173.28" width="2.40" height="1.70" fill="#dc3461" stroke="#f7d0da" stroke-width="0.9"/><rect x="980.30" y="171.24" width="2.40" height="23.57" fill="#dc3461" stroke="#f7d0da" stroke-width="0.9"/><rect x="984.30" y="180.44" width="2.40" height="18.82" fill="#34a853" stroke="#d4f0d6" stroke-width="0.9"/><rect x="988.30" y="133.43" width="2.40" height="33.20" fill="#34a853" stroke="#d4f0d6" stroke-width="0.9"/><rect x="992.55" y="132.84" width="1.90" height="0.90" fill="#eab9c7" stroke="#eee0e4" stroke-width="0.5" opacity="0.8"/><rect x="996.55" y="137.80" width="1.90" height="24.21" fill="#eab9c7" stroke="#eee0e4" stroke-width="0.5" opacity="0.8"/><rect x="1000.55" y="145.47" width="1.90" height="16.54" fill="#eab9c7" stroke="#eee0e4" stroke-width="0.5" opacity="0.8"/><rect x="1004.55" y="150.59" width="1.90" height="13.14" fill="#eab9c7" stroke="#eee0e4" stroke-width="0.5" opacity="0.8"/><rect x="1008.55" y="139.51" width="1.90" height="18.25" fill="#c2e0c8" stroke="#e2ece4" stroke-width="0.5" opacity="0.8"/><rect x="1012.55" y="136.95" width="1.90" height="11.43" fill="#c2e0c8" stroke="#e2ece4" stroke-width="0.5" opacity="0.8"/><rect x="1016.55" y="130.98" width="1.90" height="8.87" fill="#c2e0c8" stroke="#e2ece4" stroke-width="0.5" opacity="0.8"/><rect x="1020.55" y="125.02" width="1.90" height="16.54" fill="#c2e0c8" stroke="#e2ece4" stroke-width="0.5" opacity="0.8"/><rect x="1024.30" y="101.36" width="2.40" height="26.37" fill="#34a853" stroke="#d4f0d6" stroke-width="0.9"/><rect x="1029.30" y="77.49" width="2.40" height="27.22" fill="#34a853" stroke="#d4f0d6" stroke-width="0.9"/><rect x="1033.55" y="70.55" width="1.90" height="0.90" fill="#c2e0c8" stroke="#e2ece4" stroke-width="0.5" opacity="0.8"/><rect x="1037.30" y="47.95" width="2.40" height="16.10" fill="#34a853" stroke="#d4f0d6" stroke-width="0.9"/>
<rect x="22.5" y="11.5" width="1042.0" height="416.0" fill="none" stroke="#8e8e8e" stroke-width="1"/>
<rect x="22" y="428.0" width="1043" height="166.8" fill="#828282"/>
<g opacity="0.07"><text transform="translate(448.35 480.80)" x="0.36 42.74" y="0" font-size="62.90" font-weight="bold" fill="#000" stroke="#000" stroke-width="1.6" stroke-linejoin="round">FN</text></g>
<text transform="translate(459.98 495.70)" x="-0.59 8.52 18.87 29.00 34.96 39.32 48.99 59.01" y="0" font-size="16.40" fill="#000" fill-opacity="0.07">Fabrinet</text>
<path d="M26.50 594.8H30.54V565.8H26.50ZM34.58 594.8H38.62V550.2H34.58ZM42.65 594.8H46.69V560.1H42.65ZM46.69 594.8H50.73V558.1H46.69ZM54.77 594.8H58.81V511.8H54.77ZM58.81 594.8H62.84V543.5H58.81ZM62.84 594.8H66.88V529.1H62.84ZM66.88 594.8H70.92V529.9H66.88ZM70.92 594.8H74.96V482.0H70.92ZM79.00 594.8H83.04V539.0H79.00ZM83.04 594.8H87.07V556.9H83.04ZM87.07 594.8H91.11V550.2H87.07ZM91.11 594.8H95.15V570.0H91.11ZM95.15 594.8H99.19V556.9H95.15ZM99.19 594.8H103.23V524.9H99.19ZM119.38 594.8H123.42V522.9H119.38ZM123.42 594.8H127.46V550.9H123.42ZM127.46 594.8H131.49V565.8H127.46ZM135.53 594.8H139.57V442.9H135.53ZM139.57 594.8H143.61V478.3H139.57ZM147.65 594.8H151.69V494.9H147.65ZM155.72 594.8H159.76V550.2H155.72ZM167.84 594.8H171.88V544.0H167.84ZM179.95 594.8H183.99V563.1H179.95ZM188.03 594.8H192.07V549.2H188.03ZM192.07 594.8H196.11V571.7H192.07ZM196.11 594.8H200.15V570.0H196.11ZM200.15 594.8H204.18V561.3H200.15ZM204.18 594.8H208.22V570.7H204.18ZM212.26 594.8H216.30V565.0H212.26ZM216.30 594.8H220.34V542.2H216.30ZM220.34 594.8H224.37V480.3H220.34ZM224.37 594.8H228.41V529.1H224.37ZM240.53 594.8H244.57V550.9H240.53ZM248.60 594.8H252.64V565.0H248.60ZM252.64 594.8H256.68V522.9H252.64ZM256.68 594.8H260.72V555.1H256.68ZM260.72 594.8H264.76V563.3H260.72ZM264.76 594.8H268.80V553.9H264.76ZM268.80 594.8H272.83V571.2H268.80ZM272.83 594.8H276.87V563.3H272.83ZM276.87 594.8H280.91V567.0H276.87ZM288.99 594.8H293.02V567.0H288.99ZM293.02 594.8H297.06V568.0H293.02ZM297.06 594.8H301.10V574.2H297.06ZM317.25 594.8H321.29V573.2H317.25ZM321.29 594.8H325.33V567.0H321.29ZM325.33 594.8H329.37V550.9H325.33ZM333.41 594.8H337.45V555.1H333.41ZM337.45 594.8H341.48V574.4H337.45ZM341.48 594.8H345.52V556.9H341.48ZM349.56 594.8H353.60V565.8H349.56ZM353.60 594.8H357.64V563.1H353.60ZM357.64 594.8H361.68V563.8H357.64ZM361.68 594.8H365.71V548.9H361.68ZM381.87 594.8H385.90V581.9H381.87ZM398.02 594.8H402.06V572.0H398.02ZM402.06 594.8H406.10V568.8H402.06ZM406.10 594.8H410.13V569.2H406.10ZM418.21 594.8H422.25V573.0H418.21ZM422.25 594.8H426.29V574.9H422.25ZM434.36 594.8H438.40V569.2H434.36ZM438.40 594.8H442.44V579.9H438.40ZM446.48 594.8H450.52V576.9H446.48ZM454.55 594.8H458.59V570.0H454.55ZM458.59 594.8H462.63V537.8H458.59ZM462.63 594.8H466.67V561.8H462.63ZM466.67 594.8H470.71V570.7H466.67ZM474.75 594.8H478.78V565.8H474.75ZM478.78 594.8H482.82V555.1H478.78ZM482.82 594.8H486.86V553.9H482.82ZM490.90 594.8H494.94V565.8H490.90ZM503.01 594.8H507.05V543.5H503.01ZM523.20 594.8H527.24V516.0H523.20ZM527.24 594.8H531.28V541.5H527.24ZM531.28 594.8H535.32V524.2H531.28ZM535.32 594.8H539.36V536.0H535.32ZM539.36 594.8H543.40V518.0H539.36ZM547.43 594.8H551.47V550.9H547.43ZM555.51 594.8H559.55V549.4H555.51ZM559.55 594.8H563.59V540.3H559.55ZM591.86 594.8H595.89V563.8H591.86ZM595.89 594.8H599.93V552.6H595.89ZM599.93 594.8H603.97V535.3H599.93ZM603.97 594.8H608.01V573.2H603.97ZM616.08 594.8H620.12V563.3H616.08ZM632.24 594.8H636.28V574.2H632.24ZM652.43 594.8H656.47V579.9H652.43ZM656.47 594.8H660.51V576.2H656.47ZM664.54 594.8H668.58V572.0H664.54ZM668.58 594.8H672.62V581.1H668.58ZM672.62 594.8H676.66V568.0H672.62ZM676.66 594.8H680.70V541.0H676.66ZM688.77 594.8H692.81V568.0H688.77ZM696.85 594.8H700.89V574.9H696.85ZM708.96 594.8H713.00V565.0H708.96ZM717.04 594.8H721.08V560.8H717.04ZM721.08 594.8H725.12V542.2H721.08ZM733.19 594.8H737.23V544.0H733.19ZM741.27 594.8H745.31V551.9H741.27ZM745.31 594.8H749.35V560.1H745.31ZM761.46 594.8H765.50V544.0H761.46ZM765.50 594.8H769.54V565.0H765.50ZM773.58 594.8H777.61V568.0H773.58ZM781.65 594.8H785.69V550.2H781.65ZM785.69 594.8H789.73V563.8H785.69ZM789.73 594.8H793.77V550.9H789.73ZM793.77 594.8H797.81V546.0H793.77ZM797.81 594.8H801.84V579.9H797.81ZM809.92 594.8H813.96V574.9H809.92ZM813.96 594.8H818.00V568.0H813.96ZM818.00 594.8H822.04V563.8H818.00ZM822.04 594.8H826.07V563.8H822.04ZM826.07 594.8H830.11V569.2H826.07ZM830.11 594.8H834.15V553.1H830.11ZM834.15 594.8H838.19V569.2H834.15ZM854.34 594.8H858.38V550.2H854.34ZM858.38 594.8H862.42V544.7H858.38ZM866.46 594.8H870.49V570.0H866.46ZM878.57 594.8H882.61V577.4H878.57ZM890.69 594.8H894.72V577.4H890.69ZM898.76 594.8H902.80V555.1H898.76ZM910.88 594.8H914.91V561.3H910.88ZM914.91 594.8H918.95V558.1H914.91ZM918.95 594.8H922.99V539.0H918.95ZM935.11 594.8H939.14V572.0H935.11ZM939.14 594.8H943.18V548.2H939.14ZM951.26 594.8H955.30V558.8H951.26ZM955.30 594.8H959.34V562.1H955.30ZM963.37 594.8H967.41V548.9H963.37ZM971.45 594.8H975.49V529.1H971.45ZM983.57 594.8H987.60V548.9H983.57ZM987.60 594.8H991.64V533.3H987.60ZM1007.79 594.8H1011.83V560.1H1007.79ZM1011.83 594.8H1015.87V573.0H1011.83ZM1015.87 594.8H1019.91V562.1H1015.87ZM1019.91 594.8H1023.95V576.9H1019.91ZM1023.95 594.8H1027.99V549.4H1023.95ZM1027.99 594.8H1032.02V548.2H1027.99ZM1032.02 594.8H1036.06V558.1H1032.02ZM1036.06 594.8H1040.10V546.0H1036.06Z" fill="#1c9614"/>
<path d="M22.46 594.8H26.50V552.6H22.46ZM30.54 594.8H34.58V550.2H30.54ZM38.62 594.8H42.65V552.6H38.62ZM50.73 594.8H54.77V526.1H50.73ZM74.96 594.8H79.00V506.8H74.96ZM103.23 594.8H107.27V565.8H103.23ZM107.27 594.8H111.30V544.7H107.27ZM111.30 594.8H115.34V565.8H111.30ZM115.34 594.8H119.38V541.0H115.34ZM131.49 594.8H135.53V508.0H131.49ZM143.61 594.8H147.65V531.6H143.61ZM151.69 594.8H155.72V519.9H151.69ZM159.76 594.8H163.80V563.1H159.76ZM163.80 594.8H167.84V565.8H163.80ZM171.88 594.8H175.92V571.2H171.88ZM175.92 594.8H179.95V537.0H175.92ZM183.99 594.8H188.03V529.9H183.99ZM208.22 594.8H212.26V566.8H208.22ZM228.41 594.8H232.45V539.0H228.41ZM232.45 594.8H236.49V560.8H232.45ZM236.49 594.8H240.53V570.0H236.49ZM244.57 594.8H248.60V555.9H244.57ZM280.91 594.8H284.95V574.9H280.91ZM284.95 594.8H288.99V548.2H284.95ZM301.10 594.8H305.14V574.4H301.10ZM305.14 594.8H309.18V563.8H305.14ZM309.18 594.8H313.22V556.4H309.18ZM313.22 594.8H317.25V573.0H313.22ZM329.37 594.8H333.41V561.3H329.37ZM345.52 594.8H349.56V555.9H345.52ZM365.71 594.8H369.75V546.9H365.71ZM369.75 594.8H373.79V571.2H369.75ZM373.79 594.8H377.83V553.1H373.79ZM377.83 594.8H381.87V527.9H377.83ZM385.90 594.8H389.94V563.8H385.90ZM389.94 594.8H393.98V558.8H389.94ZM393.98 594.8H398.02V573.0H393.98ZM410.13 594.8H414.17V563.1H410.13ZM414.17 594.8H418.21V567.0H414.17ZM426.29 594.8H430.33V578.7H426.29ZM430.33 594.8H434.36V560.8H430.33ZM442.44 594.8H446.48V582.9H442.44ZM450.52 594.8H454.55V563.1H450.52ZM470.71 594.8H474.75V573.0H470.71ZM486.86 594.8H490.90V560.8H486.86ZM494.94 594.8H498.98V544.5H494.94ZM498.98 594.8H503.01V514.2H498.98ZM507.05 594.8H511.09V519.9H507.05ZM511.09 594.8H515.13V464.7H511.09ZM515.13 594.8H519.17V542.0H515.13ZM519.17 594.8H523.20V555.1H519.17ZM543.40 594.8H547.43V534.1H543.40ZM551.47 594.8H555.51V565.8H551.47ZM563.59 594.8H567.63V558.8H563.59ZM567.63 594.8H571.66V570.0H567.63ZM571.66 594.8H575.70V550.9H571.66ZM575.70 594.8H579.74V553.9H575.70ZM579.74 594.8H583.78V544.0H579.74ZM583.78 594.8H587.82V562.1H583.78ZM587.82 594.8H591.86V538.5H587.82ZM608.01 594.8H612.05V565.0H608.01ZM612.05 594.8H616.08V562.1H612.05ZM620.12 594.8H624.16V579.2H620.12ZM624.16 594.8H628.20V578.2H624.16ZM628.20 594.8H632.24V568.0H628.20ZM636.28 594.8H640.31V576.9H636.28ZM640.31 594.8H644.35V573.7H640.31ZM644.35 594.8H648.39V566.8H644.35ZM648.39 594.8H652.43V574.2H648.39ZM660.51 594.8H664.54V560.1H660.51ZM680.70 594.8H684.73V566.8H680.70ZM684.73 594.8H688.77V568.8H684.73ZM692.81 594.8H696.85V555.1H692.81ZM700.89 594.8H704.93V546.9H700.89ZM704.93 594.8H708.96V573.0H704.93ZM713.00 594.8H717.04V546.9H713.00ZM725.12 594.8H729.16V516.0H725.12ZM729.16 594.8H733.19V511.0H729.16ZM737.23 594.8H741.27V550.2H737.23ZM749.35 594.8H753.39V563.8H749.35ZM753.39 594.8H757.42V569.2H753.39ZM757.42 594.8H761.46V538.3H757.42ZM769.54 594.8H773.58V565.0H769.54ZM777.61 594.8H781.65V539.0H777.61ZM801.84 594.8H805.88V556.9H801.84ZM805.88 594.8H809.92V565.8H805.88ZM838.19 594.8H842.23V551.9H838.19ZM842.23 594.8H846.26V560.8H842.23ZM846.26 594.8H850.30V558.8H846.26ZM850.30 594.8H854.34V546.0H850.30ZM862.42 594.8H866.46V568.0H862.42ZM870.49 594.8H874.53V586.1H870.49ZM874.53 594.8H878.57V580.6H874.53ZM882.61 594.8H886.65V576.2H882.61ZM886.65 594.8H890.69V574.2H886.65ZM894.72 594.8H898.76V548.9H894.72ZM902.80 594.8H906.84V558.1H902.80ZM906.84 594.8H910.88V540.3H906.84ZM922.99 594.8H927.03V544.0H922.99ZM927.03 594.8H931.07V553.1H927.03ZM931.07 594.8H935.11V565.8H931.07ZM943.18 594.8H947.22V555.9H943.18ZM947.22 594.8H951.26V544.0H947.22ZM959.34 594.8H963.37V565.0H959.34ZM967.41 594.8H971.45V546.9H967.41ZM975.49 594.8H979.53V454.8H975.49ZM979.53 594.8H983.57V516.2H979.53ZM991.64 594.8H995.68V548.9H991.64ZM995.68 594.8H999.72V566.8H995.68ZM999.72 594.8H1003.76V565.0H999.72ZM1003.76 594.8H1007.79V565.0H1003.76Z" fill="#f01010"/>
<rect x="22.5" y="428.5" width="1042" height="166.3" fill="none" stroke="#9c9c9c" stroke-width="1"/>
<line x1="22" y1="428.3" x2="1065" y2="428.3" stroke="#a0a0a0" stroke-width="2.2"/>
<path d="M40.5 594.8V599.7M125.5 594.8V599.7M210.5 594.8V599.7M295.5 594.8V599.7M375.5 594.8V599.7M464.5 594.8V599.7M549.5 594.8V599.7M634.5 594.8V599.7M727.5 594.8V599.7M803.5 594.8V599.7M892.5 594.8V599.7M973.5 594.8V599.7M1065.0 59.5H1069.9M1065.0 136.5H1069.9M1065.0 212.5H1069.9M1065.0 289.5H1069.9M1065.0 366.5H1069.9M1065.0 472.5H1069.9M1065.0 535.5H1069.9" stroke="#f0f0f0" stroke-width="1" fill="none"/>
<text transform="translate(19.22 658.69) rotate(-45)" x="-0.14 11.63 21.18 26.39 30.78 39.81 48.47 57.44" y="0" font-size="14.73" fill="#eeeeee">Mar 2025</text>
<text transform="translate(188.33 660.47) rotate(-45)" x="-0.14 11.63 20.94 28.90 33.29 42.32 50.98 59.95" y="0" font-size="14.73" fill="#eeeeee">May 2025</text>
<text transform="translate(358.30 652.01) rotate(-45)" x="-2.24 4.38 13.20 16.93 21.33 30.36 39.02 47.99" y="0" font-size="14.73" fill="#eeeeee">Jul 2025</text>
<text transform="translate(528.39 658.67) rotate(-45)" x="-0.43 9.03 17.78 26.36 30.76 39.78 48.44 57.42" y="0" font-size="14.73" fill="#eeeeee">Sep 2025</text>
<text transform="translate(705.90 659.33) rotate(-45)" x="-0.12 10.56 19.33 27.29 31.69 40.71 49.37 58.35" y="0" font-size="14.73" fill="#eeeeee">Nov 2025</text>
<text transform="translate(873.53 655.54) rotate(-45)" x="-2.24 3.74 12.96 21.59 25.98 35.01 43.67 52.70" y="0" font-size="14.73" fill="#eeeeee">Jan 2026</text>
<text transform="translate(1073.83 65.00)" x="0.32 9.17 18.01" y="0" font-size="14.73" fill="#eeeeee">600</text>
<text transform="translate(1073.73 142.00)" x="0.27 9.17 18.01" y="0" font-size="14.73" fill="#eeeeee">500</text>
<text transform="translate(1074.12 218.00)" x="0.32 9.17 18.01" y="0" font-size="14.73" fill="#eeeeee">400</text>
<text transform="translate(1073.74 295.00)" x="0.34 9.17 18.01" y="0" font-size="14.73" fill="#eeeeee">300</text>
<text transform="translate(1073.78 372.00)" x="0.14 9.17 18.01" y="0" font-size="14.73" fill="#eeeeee">200</text>
<text transform="translate(1073.88 478.10)" x="0.14" y="0" font-size="14.73" fill="#eeeeee">2</text>
<text transform="translate(1073.37 541.10)" x="0.25" y="0" font-size="14.73" fill="#eeeeee">1</text>
<text transform="translate(1116.70 239.72) rotate(-90)" x="-0.49 9.05 14.30 22.95 26.55" y="0" font-size="14.73" fill="#dadada">Preis</text>
<text transform="translate(1098.40 543.96) rotate(-90)" x="-0.16 9.67 18.31 22.15 31.36 44.43 53.12" y="0" font-size="14.73" fill="#dadada">Volumen</text>
<text transform="translate(1119.00 515.20) rotate(-90)" x="-4.30" y="0" font-size="14.73" fill="#dadada">1</text>
<text transform="translate(1119.00 507.25) rotate(-90)" x="-4.10" y="0" font-size="14.73" fill="#dadada">0</text>
<text transform="translate(1114.00 498.85) rotate(-90)" x="-2.90" y="0" font-size="10.30" fill="#dadada">6</text>
<rect x="894.6" y="13.2" width="97.4" height="18.2" rx="3" fill="#000" fill-opacity="0.85" stroke="#2ecc71" stroke-width="2"/>
<text transform="translate(896.72 26.00)" x="0.75 9.42 18.08 26.76 35.34 40.16 48.85 57.28 61.99 70.65 79.34" y="0" font-size="13.20" font-weight="bold" fill="#2ecc71">$632.99 52W</text>
<line x1="994.1" y1="28.7" x2="1027.5" y2="32.9" stroke="#2ecc71" stroke-width="2"/>
<polygon points="1034.5,33.8 1027.0,29.2 1026.1,36.4" fill="#2ecc71"/>
<rect x="183.6" y="409" width="97.4" height="17" rx="3" fill="#000" fill-opacity="0.8" stroke="#e52a2a" stroke-width="2"/>
<text transform="translate(185.72 420.60)" x="0.75 9.42 18.00 26.76 35.34 40.24 48.94 57.28 61.99 70.65 79.34" y="0" font-size="13.20" font-weight="bold" fill="#e52a2a">$148.55 52W</text>
<line x1="179.7" y1="410.3" x2="147.5" y2="406.1" stroke="#e52a2a" stroke-width="2"/>
<polygon points="141.2,405.3 148.8,402.3 147.8,409.9" fill="#e52a2a"/>
</svg></body></html>
